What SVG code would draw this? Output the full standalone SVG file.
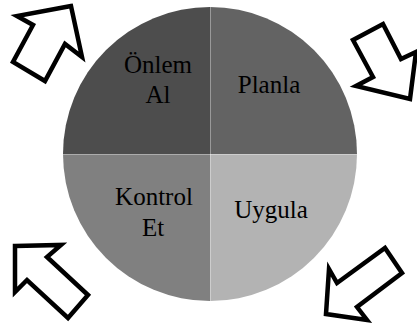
<svg xmlns="http://www.w3.org/2000/svg" width="417" height="329" viewBox="0 0 417 329">
<style>
.div{stroke:#ffffff;stroke-opacity:0.35;stroke-width:1}
.arr{fill:#ffffff;stroke:#000000;stroke-width:4.5;stroke-linejoin:miter}
.t{font-family:"Liberation Serif","Times New Roman",serif;font-size:25px;fill:#000000;text-anchor:middle}
</style>
<rect width="417" height="329" fill="#ffffff"/>
<g id="onlem-al">
<path d="M210,154 L63,154 A147,147 0 0 1 210,7 Z" fill="#4d4d4d"/>
<text class="t" x="158" y="73">Önlem</text>
<text class="t" x="158" y="103">Al</text>
</g>
<g id="planla">
<path d="M210,154 L210,7 A147,147 0 0 1 357,154 Z" fill="#636363"/>
<text class="t" x="269" y="93">Planla</text>
</g>
<g id="uygula">
<path d="M210,154 L357,154 A147,147 0 0 1 210,301 Z" fill="#b3b3b3"/>
<text class="t" x="271" y="218">Uygula</text>
</g>
<g id="kontrol-et">
<path d="M210,154 L210,301 A147,147 0 0 1 63,154 Z" fill="#808080"/>
<text class="t" x="154" y="205">Kontrol</text>
<text class="t" x="153" y="236">Et</text>
</g>
<g id="dividers">
<line class="div" x1="210.5" y1="7" x2="210.5" y2="301"/>
<line class="div" x1="63" y1="154.5" x2="357" y2="154.5"/>
</g>
<g id="connectors">
<polygon class="arr" points="71,6 17,16 33,25 13,62 45,81 65,44 82,57"/>
<polygon class="arr" points="353,40 383,24 401,59 416,52 410,99 356,86 373,77"/>
<polygon class="arr" points="15,246 61,245 47,257 88,295 68,318 27,280 15,292"/>
<polygon class="arr" points="326,314 329,269 337,283 385,248 402,273 357,307 367,320"/>
</g>
</svg>
